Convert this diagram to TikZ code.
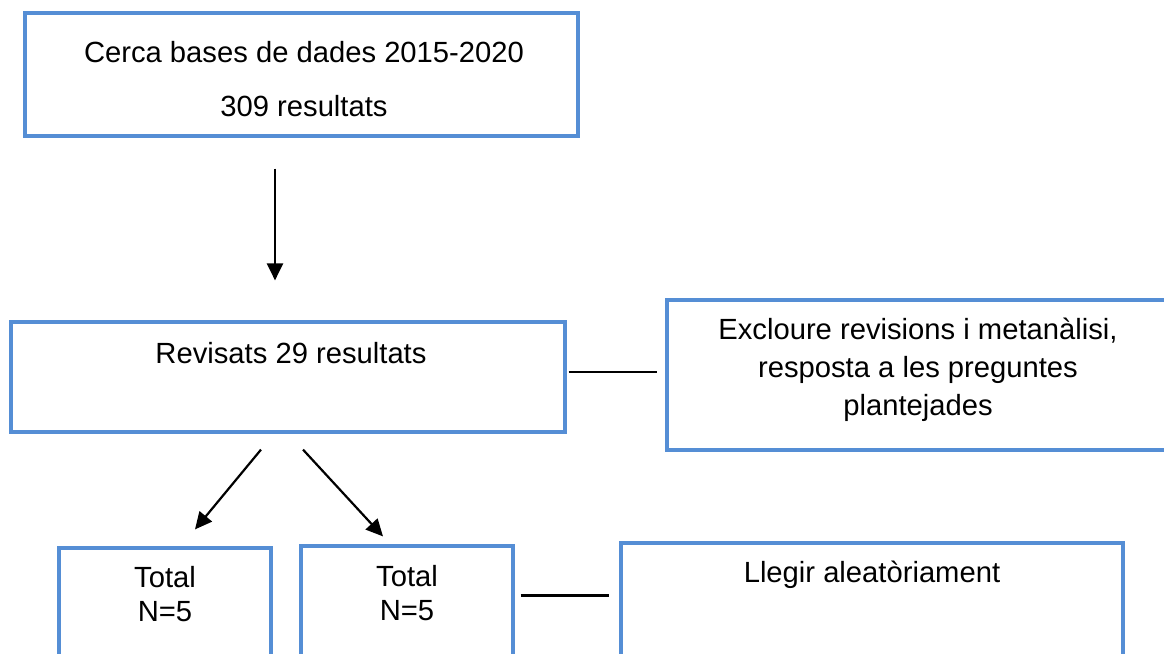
\documentclass[tikz,border=0pt]{standalone}
\usepackage{fontspec}
\setmainfont{Liberation Sans}
\usetikzlibrary{arrows.meta,positioning,calc,fit}
\definecolor{boxblue}{RGB}{85,142,213}

\begin{document}
\begin{tikzpicture}[x=0.5pt,y=-0.5pt,
  box/.style={draw=boxblue,line width=1.6pt,inner sep=0pt},
  txt/.style={align=center,font=\fontsize{14.6}{19}\selectfont},
  arr/.style={-{Triangle[length=8.5pt,width=8pt]},line width=1.1pt},
  link/.style={line width=1.1pt}]
\useasboundingbox (0,0) rectangle (1164,654);
\clip (0,0) rectangle (1164,654);
% boxes
\node[box,fit={(25,13) (578,136)}] (cerca) {};
\node[txt] (cercaTxt) at (304,79) {Cerca bases de dades 2015-2020\\[8pt]309 resultats};
\node[box,fit={(11,322) (565,432)}] (revisats) {};
\node[txt] (revisatsTxt) at (291,353) {Revisats 29 resultats};
\node[box,fit={(667,300) (1200,450)}] (excloure) {};
\node[txt] (exclTxt) at (918,370) {Excloure revisions i metanàlisi,\\resposta a les preguntes\\plantejades};
\node[box,fit={(59,548) (271,700)}] (totalA) {};
\node[txt] (totalATxt) at (165,594) {Total\\[-2pt]N=5};
\node[box,fit={(301,546) (513,700)}] (totalB) {};
\node[txt] (totalBTxt) at (407,593) {Total\\[-2pt]N=5};
\node[box,fit={(621,543) (1123,700)}] (llegir) {};
\node[txt] (llegirTxt) at (872,575) {Llegir aleatòriament};
% connectors
\draw[arr] ($(cerca.south)+(-26.5,31)$) -- ($(revisats.north)+(-13,-40)$);
\draw[link] ($(revisats.east)+(2,-5)$) -- ($(excloure.west)+(-8,-3)$);
\draw[arr] ($(revisats.south)+(-27,16)$) -- ($(totalA.north)+(30,-17)$);
\draw[arr] ($(revisats.south)+(15,16)$) -- ($(totalB.north)+(-24,-8)$);
\draw[link] ($(totalB.north east)+(6,51)$) -- ($(llegir.north west)+(-10,54)$);
\end{tikzpicture}
\end{document}
